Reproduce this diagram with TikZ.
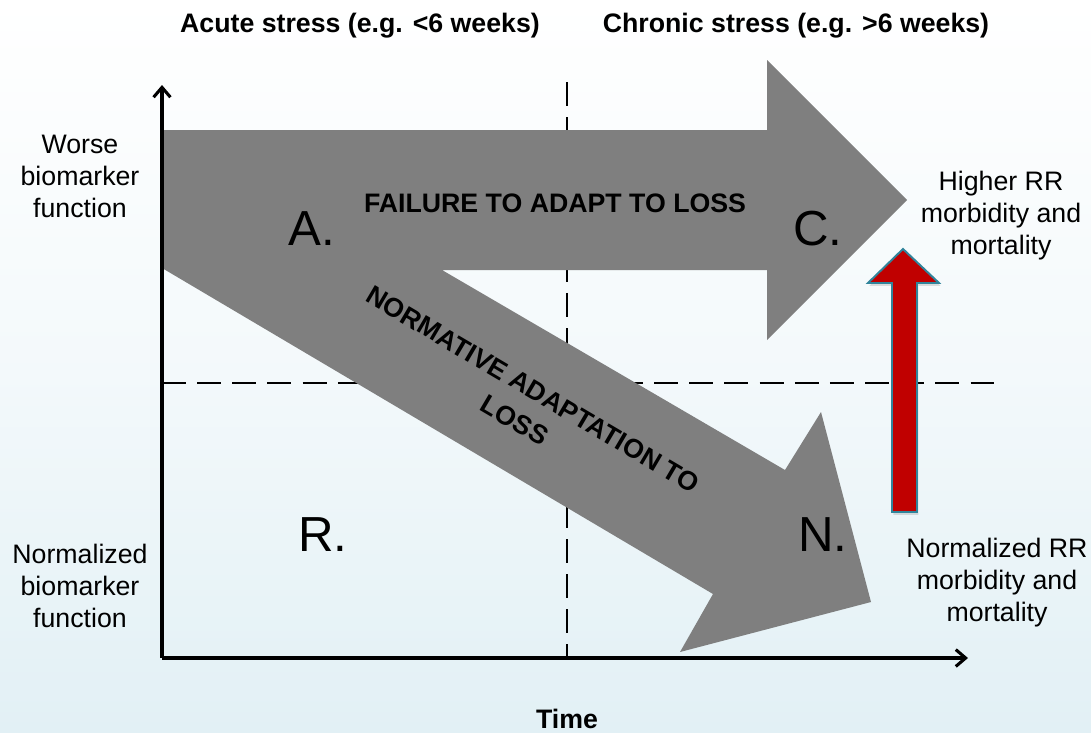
\documentclass[tikz,border=0pt]{standalone}
\usepackage{fontspec}
\setmainfont{Liberation Sans}
\usetikzlibrary{arrows.meta,shadows}

\definecolor{bandgray}{RGB}{127,127,127}
\definecolor{upred}{RGB}{192,0,0}
\definecolor{upedge}{RGB}{49,132,155}
\definecolor{bgblue}{RGB}{226,240,245}

\begin{document}
\begin{tikzpicture}[x=0.025cm, y=-0.025cm,
    side/.style={align=center, font=\fontsize{19}{22.8}\selectfont},
    head/.style={font=\bfseries\fontsize{19}{22.8}\selectfont, anchor=base},
    letter/.style={font=\fontsize{35}{40}\selectfont},
    bandtext/.style={font=\bfseries\fontsize{19}{25.5}\selectfont, align=center},
    axis/.style={line width=2.2pt, -{Straight Barb[length=7pt,width=12pt,line width=2.2pt]}},
    guide/.style={line width=2pt, dash pattern=on 17pt off 8pt}]

    % background
    \useasboundingbox (0,0) rectangle (1091,732);
    \shade[top color=white, bottom color=bgblue, middle color=white!60!bgblue] (0,0) rectangle (1091,732);

    % guides between the phases and the levels
    \coordinate (vtop) at (567,82);
    \coordinate (vbot) at (567,658);
    \coordinate (hleft) at (162,383);
    \coordinate (hright) at (995,383);
    \draw[guide] (vtop) -- (vbot);
    \draw[guide] (hleft) -- (hright);

    % the two grey arrows
    \fill[bandgray] (162,130) -- (767,130) -- (767,60) -- (907,200) -- (767,340)
        -- (767,270) -- (442,270) -- (785,470) -- (821,412) -- (871,602)
        -- (680,652) -- (713,594) -- (162,268) -- cycle;

    % red arrow
    \filldraw[fill=upred, draw=upedge, line width=1.4pt,
        drop shadow={opacity=0.25, shadow xshift=1pt, shadow yshift=-2pt}]
        (892,512) -- (892,283) -- (868,283) -- (903,249) -- (939,283)
        -- (917,283) -- (917,512) -- cycle;

    % axes
    \coordinate (origin) at (162,658);
    \coordinate (ytop) at (162,85);
    \coordinate (xend) at (968,658);
    \draw[axis] (origin) -- (ytop);
    \draw[axis] (origin) -- (xend);

    % headings
    \node[head] (acute) at (360,32) {Acute stress (e.g. <6 weeks)};
    \node[head] (chronic) at (796,32) {Chronic stress (e.g. >6 weeks)};
    \node[head] (time) at (567,728) {Time};

    % side labels
    \node[side] (worse) at (80,176) {Worse\\biomarker\\function};
    \node[side] (normbio) at (80,586) {Normalized\\biomarker\\function};
    \node[side] (higher) at (1001,216) {Higher RR\\morbidity and\\mortality};
    \node[side] (normrr) at (997,583) {Normalized RR\\morbidity and\\mortality};

    % quadrant letters
    \node[letter] (lblA) at (312,229) {A.};
    \node[letter] (lblC) at (818,229) {C.};
    \node[letter] (lblR) at (323,535) {R.};
    \node[letter] (lblN) at (823,535) {N.};

    % arrow texts
    \node[bandtext] (failure) at (555,203) {FAILURE TO ADAPT TO LOSS};
    \node[bandtext, rotate=-30.5] (normative) at (524,405) {NORMATIVE ADAPTATION TO\\LOSS};
\end{tikzpicture}
\end{document}
